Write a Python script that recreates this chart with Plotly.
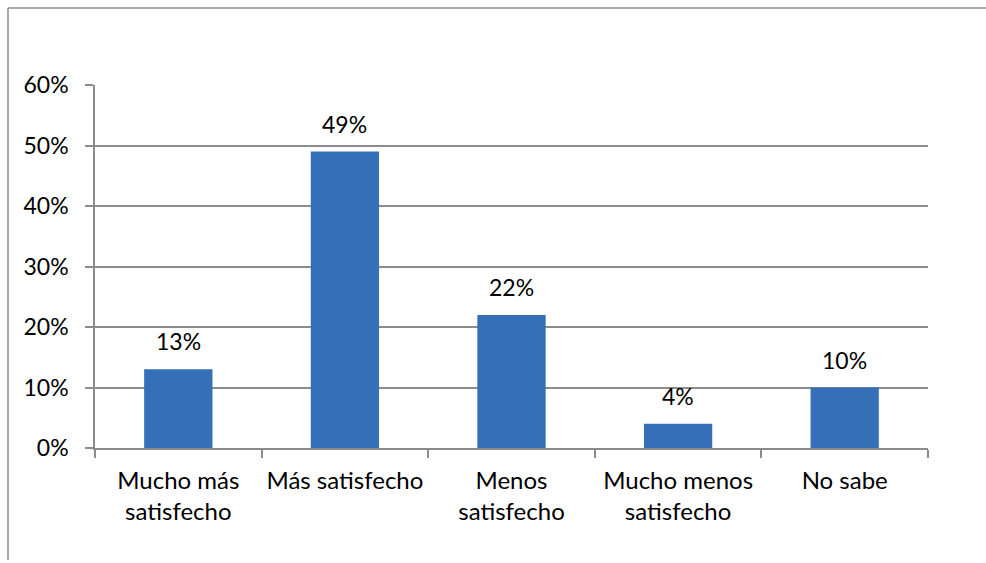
import plotly.graph_objects as go

categories = ["Mucho más<br>satisfecho", "Más satisfecho", "Menos<br>satisfecho",
              "Mucho menos<br>satisfecho", "No sabe"]
values = [0.13, 0.49, 0.22, 0.04, 0.10]
labels = ["13%", "49%", "22%", "4%", "10%"]
y_ticks = [0, 0.1, 0.2, 0.3, 0.4, 0.5, 0.6]
y_tick_labels = ["0%", "10%", "20%", "30%", "40%", "50%", "60%"]

W, H = 986, 563
L, R, T, B = 95, 58, 85, 115
FONT = "Lato"
FS = 23
GRAY = "#8c8c8c"

fig = go.Figure(go.Bar(
    x=categories, y=values,
    marker=dict(color="#356FB8", line=dict(width=0)),
    width=0.41,
))

for c, v, t in zip(categories, values, labels):
    fig.add_annotation(x=c, y=v, text=t, showarrow=False, yanchor="bottom",
                       yshift=12, font=dict(size=FS, family=FONT, color="#000000"))

def px_x(p):
    return (p - L) / (W - L - R)

def px_y(p):
    return (H - B - p) / (H - T - B)

fig.add_shape(type="line", xref="paper", yref="paper",
              x0=px_x(8), x1=px_x(W),
              y0=px_y(8), y1=px_y(8),
              line=dict(color=GRAY, width=1.5))
fig.add_shape(type="line", xref="paper", yref="paper",
              x0=px_x(8), x1=px_x(8),
              y0=px_y(8), y1=px_y(560),
              line=dict(color=GRAY, width=1.5))

fig.update_layout(
    width=W, height=H,
    margin=dict(l=L, r=R, t=T, b=B),
    paper_bgcolor="white", plot_bgcolor="white",
    font=dict(family=FONT, size=FS, color="#000000"),
    showlegend=False,
    xaxis=dict(
        showline=True, linecolor=GRAY, linewidth=1.5,
        ticks="outside", tickson="boundaries", ticklen=8, tickcolor=GRAY,
        tickwidth=1.5, tickfont=dict(size=24, family=FONT),
        showgrid=False, ticklabelstandoff=10,
    ),
    yaxis=dict(
        range=[0, 0.6], tickvals=y_ticks, ticktext=y_tick_labels,
        showline=True, linecolor=GRAY, linewidth=1.5,
        ticks="outside", ticklen=8, tickcolor=GRAY, tickwidth=1.5,
        showgrid=True, gridcolor=GRAY, gridwidth=1.5,
        zeroline=False, tickfont=dict(size=FS, family=FONT),
        ticklabelstandoff=12,
    ),
)

fig.write_html(
    "out.html",
    config={"displayModeBar": False},
    post_script="document.body.style.margin='0';document.body.style.overflow='hidden';",
)
